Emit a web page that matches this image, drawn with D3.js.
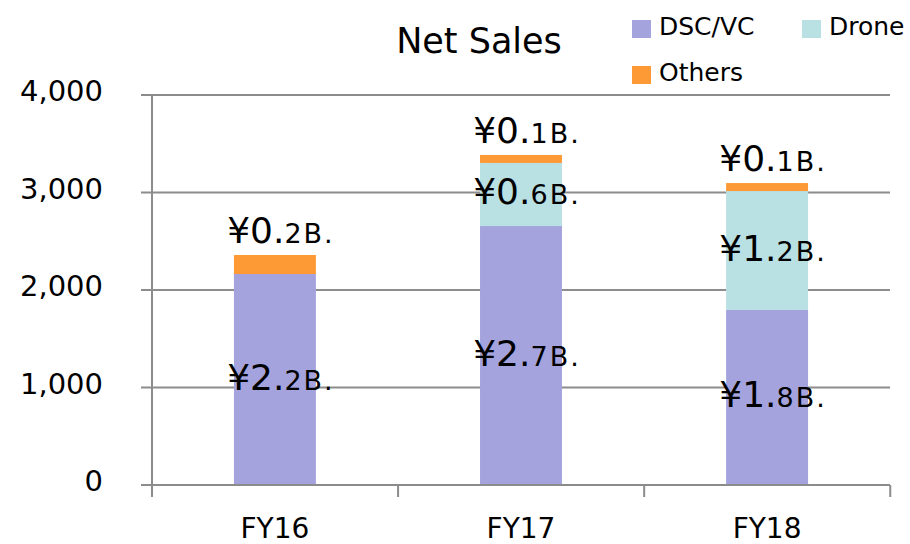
<!DOCTYPE html>
<html>
<head>
<meta charset="utf-8">
<script src="https://cdn.jsdelivr.net/npm/d3@7/dist/d3.min.js"></script>
<style>
  body { margin: 0; background: #fff; }
  text { font-family: "DejaVu Sans", Verdana, sans-serif; fill: #000; }
</style>
</head>
<body>
<script>
// data (millions of yen)
const years = ['FY16', 'FY17', 'FY18'];
const dsc = [2164, 2656, 1795];
const drone = [0, 647, 1220];
const others = [195, 82, 82];
const seriesNames = ['DSC/VC', 'Drone', 'Others'];
const yTicks = [0, 1000, 2000, 3000, 4000];

const colors = { 'DSC/VC': '#a4a3dd', 'Drone': '#b9e0e3', 'Others': '#fd9a36' };

const svg = d3.select('body')
  .append('svg')
    .attr('width', 910)
    .attr('height', 544);

const pLeft = 152, pRight = 890, pTop = 95, pBottom = 485;

const x = d3.scaleBand()
  .domain(years)
  .range([pLeft, pRight])
  .paddingInner(0.667)
  .paddingOuter(0.333);

const y = d3.scaleLinear()
  .domain([0, 4000])
  .range([pBottom, pTop]);

const rows = years.map((yr, i) => ({ year: yr, 'DSC/VC': dsc[i], 'Drone': drone[i], 'Others': others[i] }));
const stacked = d3.stack().keys(seriesNames)(rows);

// gridlines
svg.append('g')
  .selectAll('line')
  .data(yTicks.filter(d => d > 0))
  .join('line')
    .attr('x1', pLeft - 11)
    .attr('x2', pRight)
    .attr('y1', d => y(d))
    .attr('y2', d => y(d))
    .attr('stroke', '#8c8c8c')
    .attr('stroke-width', 2);

// y tick labels
svg.append('g')
  .selectAll('text')
  .data(yTicks)
  .join('text')
    .attr('x', 103)
    .attr('y', d => y(d) + 6)
    .attr('text-anchor', 'end')
    .style('font-size', '29px')
    .text(d => d3.format(',')(d));

// bars
svg.append('g')
  .selectAll('g')
  .data(stacked)
  .join('g')
    .attr('fill', s => colors[s.key])
  .selectAll('rect')
  .data(s => s)
  .join('rect')
    .attr('x', d => x(d.data.year))
    .attr('width', x.bandwidth())
    .attr('y', d => y(d[1]))
    .attr('height', d => y(d[0]) - y(d[1]));

// axes lines
svg.append('line')
  .attr('x1', pLeft).attr('x2', pLeft)
  .attr('y1', pTop).attr('y2', pBottom + 10)
  .attr('stroke', '#8c8c8c').attr('stroke-width', 2);
svg.append('line')
  .attr('x1', pLeft - 11).attr('x2', pRight)
  .attr('y1', pBottom).attr('y2', pBottom)
  .attr('stroke', '#8c8c8c').attr('stroke-width', 2);

// category boundary ticks
svg.append('g')
  .selectAll('line')
  .data(d3.range(years.length + 1))
  .join('line')
    .attr('x1', i => pLeft + i * x.step())
    .attr('x2', i => pLeft + i * x.step())
    .attr('y1', pBottom)
    .attr('y2', pBottom + 12)
    .attr('stroke', '#8c8c8c')
    .attr('stroke-width', 2);

// category labels
svg.append('g')
  .selectAll('text')
  .data(years)
  .join('text')
    .attr('x', d => x(d) + x.bandwidth() / 2)
    .attr('y', 538)
    .attr('text-anchor', 'middle')
    .style('font-size', '28px')
    .text(d => d);

// value labels
function addLabel(cx, cy, v) {
  const s = (v / 1000).toFixed(1).split('.');
  const t = svg.append('text')
    .attr('x', cx)
    .attr('y', cy)
    .attr('text-anchor', 'middle');
  t.append('tspan').style('font-size', '36px').text('¥' + s[0] + '.');
  t.append('tspan').style('font-size', '27px').attr('letter-spacing', '2px').text(s[1] + 'B.');
}

stacked.forEach(s => {
  s.forEach(d => {
    const v = d[1] - d[0];
    if (v <= 0) return;
    const cx = x(d.data.year) + x.bandwidth() / 2 + 6;
    if (s.key === 'Others') {
      addLabel(cx, y(d[1]) - 12, v);
    } else {
      addLabel(cx, (y(d[0]) + y(d[1])) / 2 + 10, v);
    }
  });
});

// title
svg.append('text')
  .attr('x', 479)
  .attr('y', 53)
  .attr('text-anchor', 'middle')
  .style('font-size', '35px')
  .text('Net Sales');

// legend
const legendPos = [[632, 20], [802, 20], [632, 66]];
const legend = svg.append('g')
  .selectAll('g')
  .data(seriesNames)
  .join('g')
    .attr('transform', (d, i) => 'translate(' + legendPos[i][0] + ',' + legendPos[i][1] + ')');
legend.append('rect')
  .attr('width', 19)
  .attr('height', 18)
  .attr('fill', d => colors[d]);
legend.append('text')
  .attr('x', 27)
  .attr('y', 15)
  .style('font-size', '25px')
  .text(d => d);
</script>
</body>
</html>
